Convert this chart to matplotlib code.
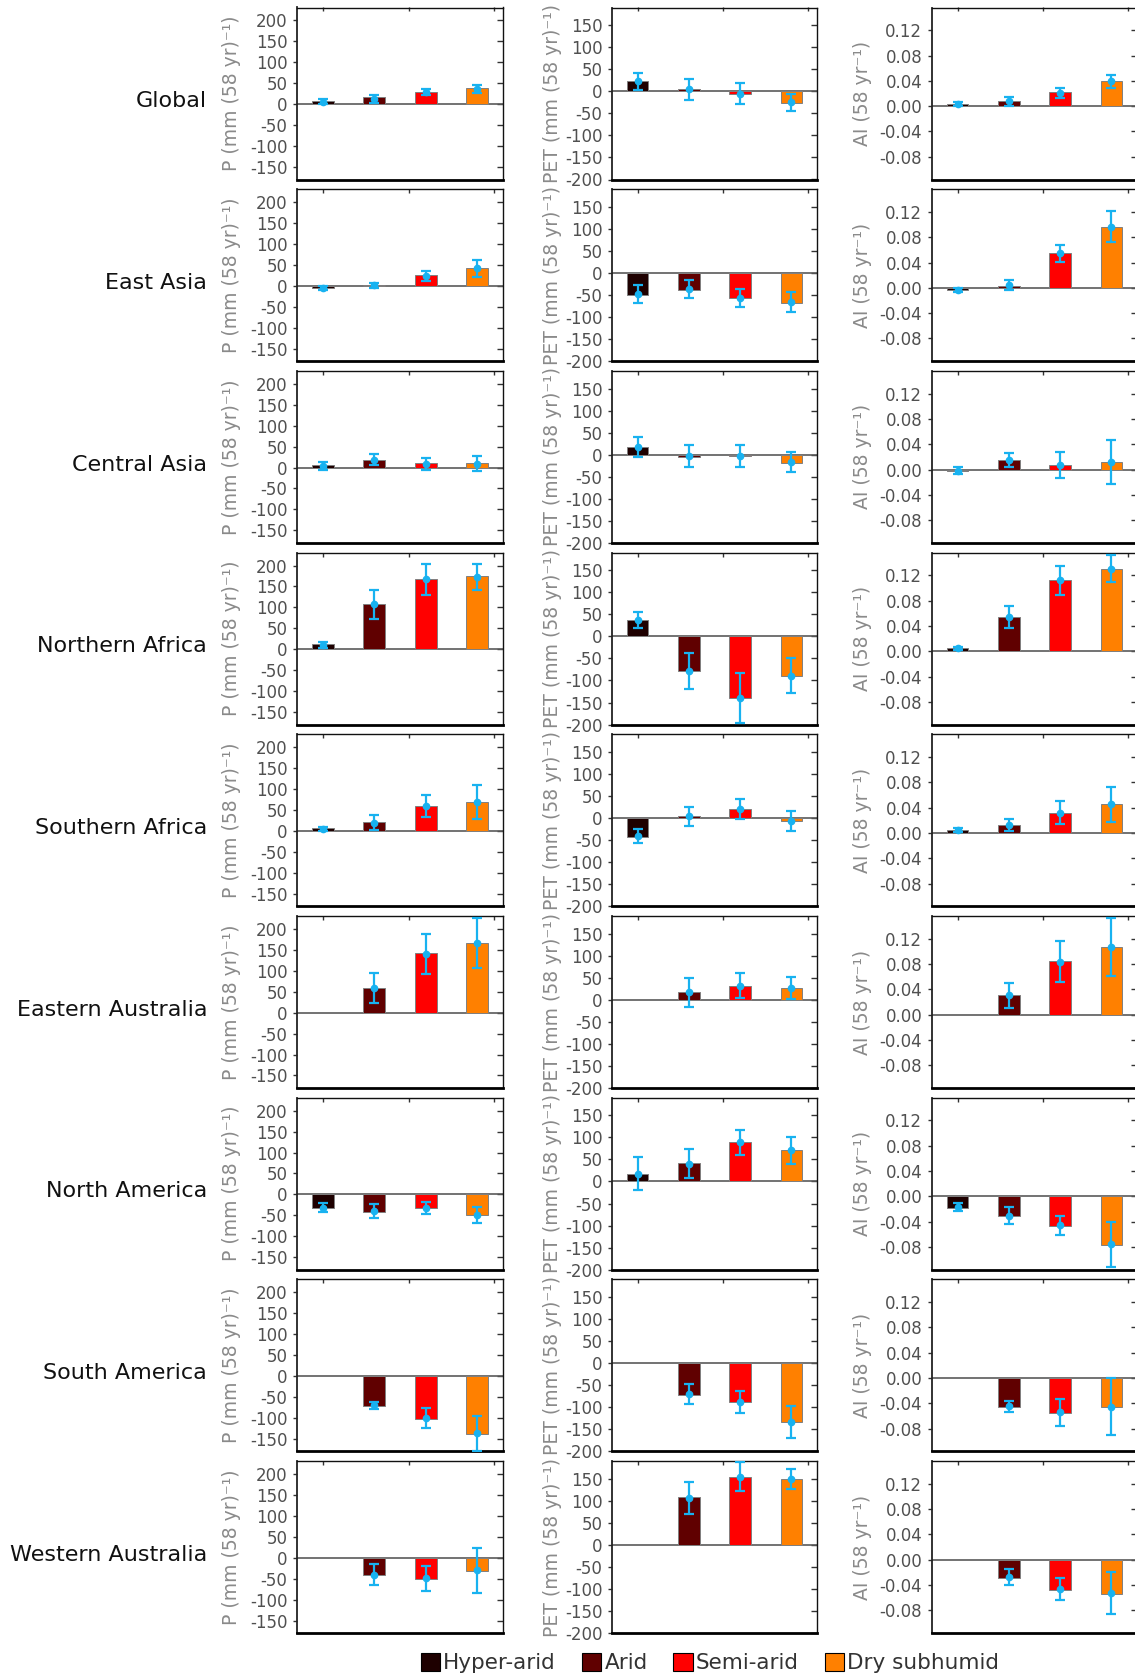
import numpy as np
import matplotlib
matplotlib.use("Agg")
import matplotlib.pyplot as plt
from matplotlib.patches import Patch
from matplotlib.transforms import blended_transform_factory, offset_copy

plt.rcParams['font.family'] = ['DejaVu Sans']
plt.rcParams['axes.unicode_minus'] = False

nan = np.nan
regions = ["Global", "East Asia", "Central Asia", "Northern Africa", "Southern Africa",
           "Eastern Australia", "North America", "South America", "Western Australia"]
categories = ["Hyper-arid", "Arid", "Semi-arid", "Dry subhumid"]
colors = ["#1e0000", "#600000", "#ff0000", "#ff8000"]

# Precipitation trend (mm (58 yr)^-1)
P_bar = [[7, 17, 30, 38], [-6, 2, 26, 43], [5, 19, 10, 10], [12, 109, 167, 174],
         [7, 21, 59, 69], [nan, 59, 142, 167], [-33, -41, -33, -50],
         [nan, -72, -103, -138], [nan, -42, -51, -32]]
P_pt = [[6, 13, 29, 36], [-5, 1, 24, 42], [4, 19, 9, 9], [11, 107, 167, 172],
        [5, 20, 59, 69], [nan, 59, 140, 166], [-32, -40, -32, -49],
        [nan, -70, -100, -137], [nan, -41, -49, -30]]
P_err = [[6, 10, 8, 10], [4, 7, 12, 20], [10, 14, 14, 18], [7, 35, 37, 31],
         [5, 17, 26, 40], [nan, 35, 48, 60], [11, 17, 14, 19],
         [nan, 9, 23, 42], [nan, 25, 30, 54]]

# PET trend (mm (58 yr)^-1)
PET_bar = [[24, 5, -6, -26], [-49, -38, -57, -67], [17, -5, -4, -19], [37, -78, -140, -90],
           [-42, 5, 21, -6], [nan, 17, 32, 27], [18, 41, 90, 72],
           [nan, -71, -89, -134], [nan, 108, 155, 149]]
PET_pt = [[23, 5, -5, -25], [-48, -37, -56, -66], [17, -3, -2, -17], [37, -78, -140, -89],
          [-40, 4, 21, -6], [nan, 17, 32, 27], [18, 40, 89, 71],
          [nan, -70, -88, -133], [nan, 107, 155, 149]]
PET_err = [[19, 24, 23, 20], [20, 20, 20, 22], [23, 26, 25, 22], [19, 41, 57, 40],
           [16, 21, 23, 23], [nan, 33, 29, 25], [37, 33, 28, 31],
           [nan, 23, 25, 36], [nan, 36, 32, 22]]

# Aridity index trend ((58 yr)^-1)
AI_bar = [[0.003, 0.0085, 0.022, 0.0405], [-0.004, 0.0035, 0.0545, 0.097],
          [-0.002, 0.015, 0.0077, 0.012], [0.0044, 0.0544, 0.112, 0.1306],
          [0.005, 0.0128, 0.032, 0.046], [nan, 0.031, 0.0846, 0.1067],
          [-0.0177, -0.0315, -0.0476, -0.0774], [nan, -0.0458, -0.0553, -0.0463],
          [nan, -0.0284, -0.0474, -0.0537]]
AI_pt = [[0.003, 0.0075, 0.021, 0.039], [-0.003, 0.0045, 0.055, 0.097],
         [-0.0017, 0.015, 0.0072, 0.0116], [0.0044, 0.054, 0.112, 0.1306],
         [0.005, 0.0128, 0.032, 0.0456], [nan, 0.031, 0.084, 0.1067],
         [-0.0166, -0.0304, -0.046, -0.0758], [nan, -0.0447, -0.0542, -0.0453],
         [nan, -0.0274, -0.0463, -0.0526]]
AI_err = [[0.003, 0.007, 0.008, 0.010], [0.0035, 0.0075, 0.0135, 0.024],
          [0.005, 0.011, 0.0205, 0.035], [0.003, 0.017, 0.023, 0.0215],
          [0.0033, 0.010, 0.018, 0.0275], [nan, 0.0197, 0.032, 0.0455],
          [0.006, 0.0133, 0.015, 0.036], [nan, 0.009, 0.0216, 0.0455],
          [nan, 0.0132, 0.018, 0.0326]]

P_ticks = [-150, -100, -50, 0, 50, 100, 150, 200]
PET_ticks = [-200, -150, -100, -50, 0, 50, 100, 150]
AI_ticks = [-0.08, -0.04, 0.00, 0.04, 0.08, 0.12]

W, H = 1135, 1679
fig = plt.figure(figsize=(W / 100, H / 100), dpi=100)

col_left = [297, 612, 932]
col_w = [206, 205, 205]
row_top0, row_step, row_h = 7.5, 181.7, 172

panels = [
    dict(bar=P_bar, pt=P_pt, err=P_err, ylim=(-180, 231), ticks=P_ticks, fmt="{:.0f}",
         label="P (mm (58 yr)\u207b\u00b9)", lab_x=-0.27),
    dict(bar=PET_bar, pt=PET_pt, err=PET_err, ylim=(-200, 190), ticks=PET_ticks, fmt="{:.0f}",
         label="PET (mm (58 yr)\u207b\u00b9)", lab_x=-0.245),
    dict(bar=AI_bar, pt=AI_pt, err=AI_err, ylim=(-0.116, 0.156), ticks=AI_ticks, fmt="{:.2f}",
         label="AI (58 yr\u207b\u00b9)", lab_x=-0.293),
]

x = np.arange(1, 5)
tick_col = "#505050"
lab_col = "#8a8a8a"
err_col = "#18b2f0"

for r, region in enumerate(regions):
    top = row_top0 + r * row_step
    for c, pan in enumerate(panels):
        ax = fig.add_axes([col_left[c] / W, 1 - (top + row_h) / H, col_w[c] / W, row_h / H])
        bars = np.array(pan["bar"][r], dtype=float)
        pts = np.array(pan["pt"][r], dtype=float)
        errs = np.array(pan["err"][r], dtype=float)
        ax.axhline(0, color="#5a5a5a", lw=1.2, zorder=1)
        ax.bar(x, bars, width=0.42, color=colors, edgecolor="#808080", linewidth=0.7, zorder=2)
        ax.errorbar(x, pts, yerr=errs, fmt="o", color=err_col, ecolor=err_col,
                    elinewidth=1.6, capsize=3.8, capthick=1.6, markersize=4.5, zorder=3)
        ax.set_xlim(0.5, 4.5)
        ax.set_ylim(*pan["ylim"])
        ax.set_xticks([])
        ax.set_yticks(pan["ticks"])
        ax.set_yticklabels([pan["fmt"].format(t) for t in pan["ticks"]])
        ax.tick_params(axis="y", direction="out", length=3, width=1, pad=4,
                       labelsize=12, labelcolor=tick_col, color="#333333")
        sec = ax.secondary_yaxis("right")
        sec.set_yticks(pan["ticks"])
        sec.tick_params(direction="in", length=4, width=1, labelright=False, color="#333333")
        sec.spines["right"].set_visible(False)
        secx = ax.secondary_xaxis("top")
        secx.set_xticks([1, 8 / 3, 13 / 3])
        secx.tick_params(direction="in", length=3, width=1, labeltop=False, color="#333333")
        secx.spines["top"].set_visible(False)
        for s in ["top", "right"]:
            ax.spines[s].set_linewidth(1.0)
            ax.spines[s].set_color("#111111")
        ax.spines["left"].set_linewidth(1.3)
        ax.spines["left"].set_color("#222222")
        ax.spines["bottom"].set_linewidth(2.0)
        ax.spines["bottom"].set_color("#000000")
        ax.set_ylabel(pan["label"], fontsize=13.5, color=lab_col)
        ax.yaxis.set_label_coords(pan["lab_x"], 0.5)
        if c == 0:
            tr = blended_transform_factory(fig.transFigure, ax.transData)
            tr = offset_copy(tr, fig=fig, x=0, y=3, units="dots")
            ax.text(207 / W, 0, region, transform=tr, ha="right", va="center",
                    fontsize=16, color="#111111")

handles = [Patch(facecolor=col, edgecolor="black", linewidth=0.8) for col in colors]
fig.legend(handles, categories, loc="center", bbox_to_anchor=(710 / W, 1 - 1663 / H),
           ncol=4, frameon=False, fontsize=15.5, handlelength=0.9, handleheight=0.9,
           handletextpad=0.15, columnspacing=1.2, labelcolor="#333333")

fig.savefig("out.png", dpi=100)
